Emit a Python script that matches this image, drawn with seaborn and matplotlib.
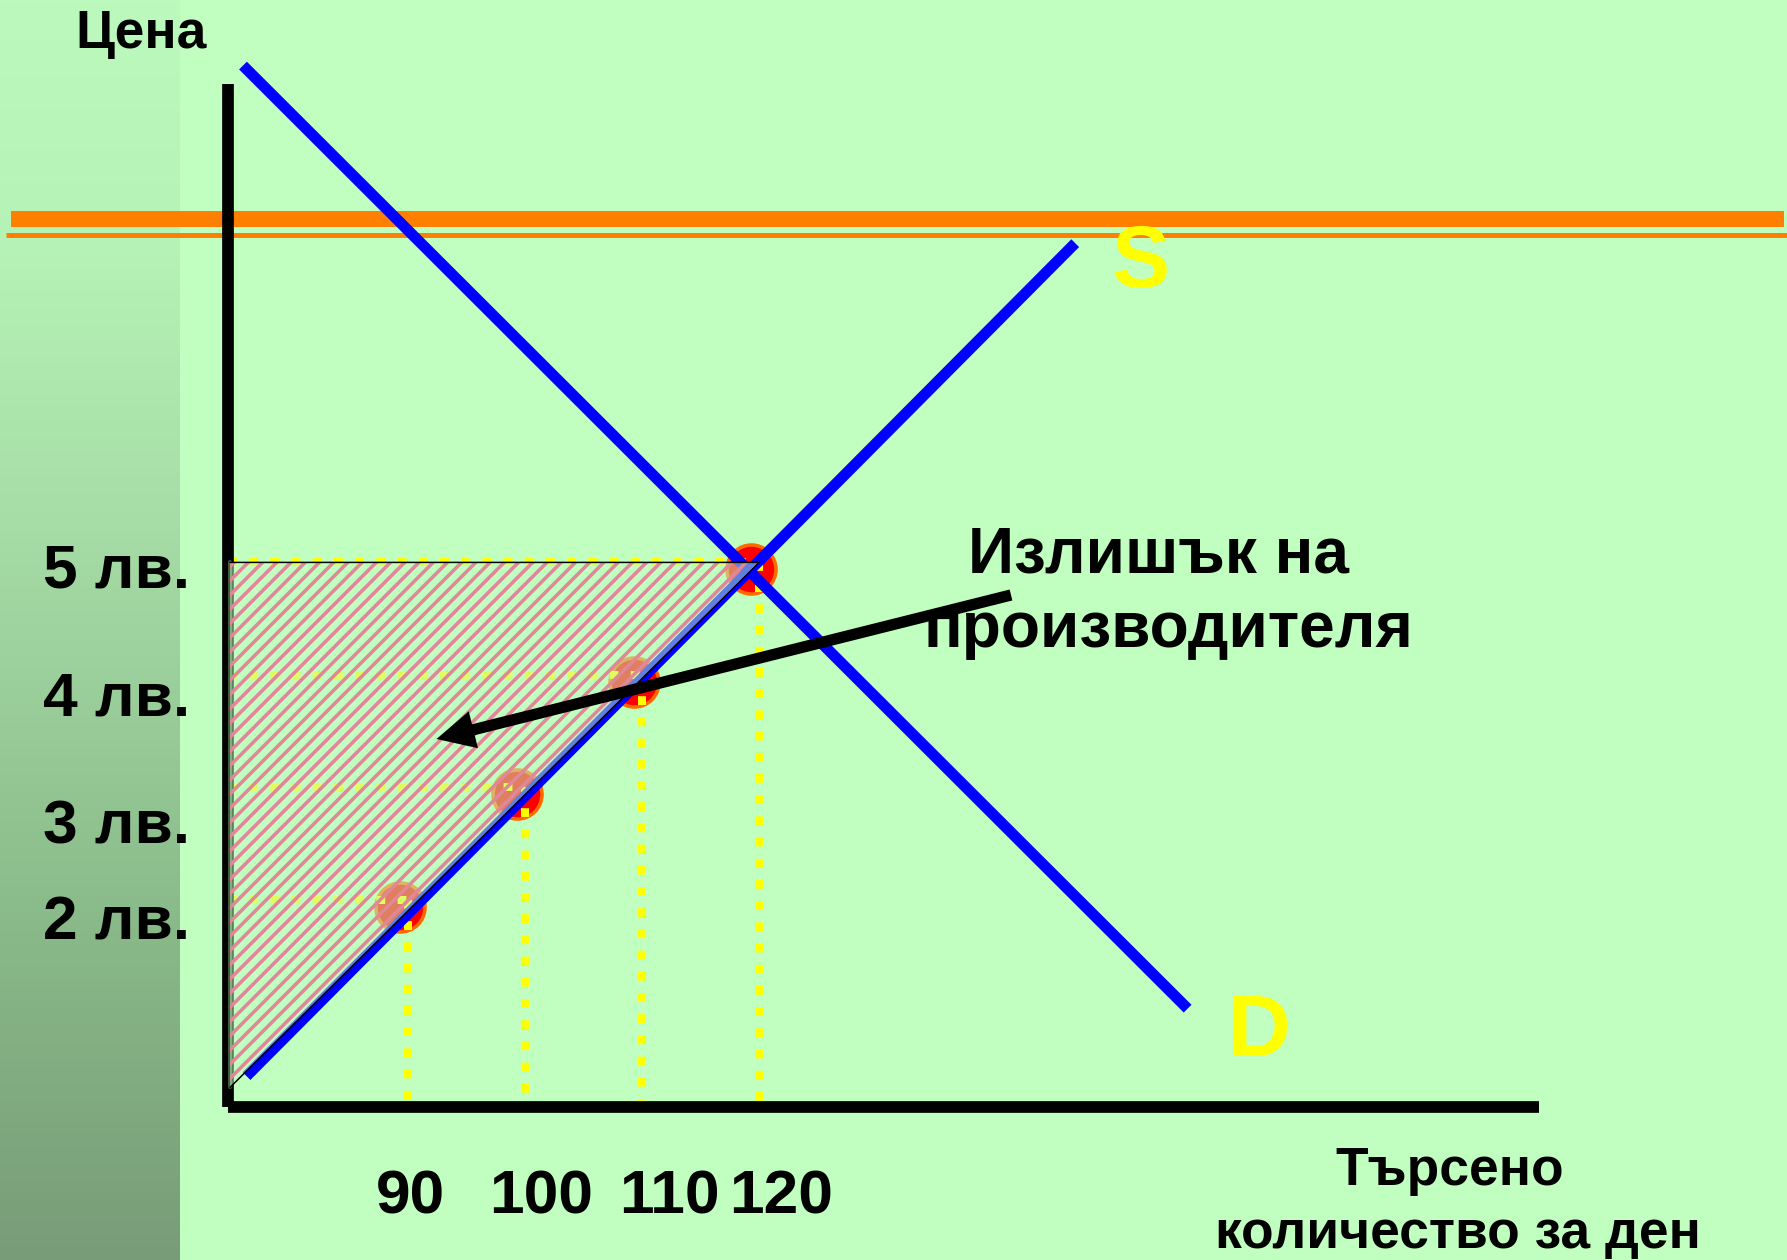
import numpy as np
import matplotlib
matplotlib.use('Agg')
import matplotlib.pyplot as plt
import seaborn as sns
from matplotlib.lines import Line2D
from matplotlib.colors import LinearSegmentedColormap
from matplotlib.transforms import ScaledTranslation

# ---------------- data ----------------
quantity = [90, 100, 110, 120]
price = [2, 3, 4, 5]
quantity_labels = ["90", "100", "110", "120"]
price_labels = ["5 лв.", "4 лв.", "3 лв.", "2 лв."]
supply_q = [76.2, 147.0]
supply_p = [0.43, 7.84]
demand_q = [75.9, 156.6]
demand_p = [9.42, 1.03]
surplus_q = [74.8, 74.8, 120]
surplus_p = [0.33, 5, 5]

# ---------------- style ----------------
W, H, DPI = 1787, 1260, 128
PX = 72 / DPI  # points per pixel
sns.set_style('white')
plt.rcParams['font.family'] = ['Liberation Sans', 'DejaVu Sans']
plt.rcParams['text.color'] = 'black'
plt.rcParams['hatch.linewidth'] = 2.0

BG = '#C0FFC0'
fig = plt.figure(figsize=(W / DPI, H / DPI), dpi=DPI, facecolor=BG)


def fx(x):
    return x / W


def fy(y):
    return 1 - y / H


# left gradient strip
strip = fig.add_axes([0, 0, 180 / W, 1], zorder=0)
cmap = LinearSegmentedColormap.from_list(
    'strip', [(0, '#BCF9BC'), (0.2, '#B5F2B5'), (0.42, '#A6DCA6'),
              (0.75, '#88B888'), (1.0, '#789C78')])
strip.imshow(np.linspace(0, 1, 256).reshape(-1, 1), aspect='auto', cmap=cmap)
strip.axis('off')

# orange decorative lines
fig.add_artist(Line2D([fx(11), fx(1784)], [fy(219), fy(219)], transform=fig.transFigure,
                      color='#FF8000', lw=16 * PX, solid_capstyle='butt', zorder=0.5))
fig.add_artist(Line2D([fx(6), fx(1787)], [fy(234.5), fy(234.5)], transform=fig.transFigure,
                      color='#FF8000', lw=5 * PX, solid_capstyle='butt', zorder=0.5))

# main axes
ax = fig.add_axes([fx(228), fy(1107), (1539 - 228) / W, (1107 - 84) / H], zorder=1)
ax.set_facecolor('none')
XL = (74.62, 186.62)
YL = (0.155, 9.256)
ax.set_xlim(*XL)
ax.set_ylim(*YL)
ax.set_xticks([])
ax.set_yticks([])
for s in ['top', 'right']:
    ax.spines[s].set_visible(False)
for s in ['left', 'bottom']:
    ax.spines[s].set_linewidth(11.7 * PX)
    ax.spines[s].set_color('black')
    ax.spines[s].set_capstyle('butt')

# markers
sns.scatterplot(x=quantity, y=price, s=760, color='#FF0000', edgecolor='#FF6A00',
                linewidth=2.0, zorder=1.5, clip_on=False, ax=ax, legend=False)
coll = ax.collections[-1]
coll.set_offset_transform(ax.transData + ScaledTranslation(-8 / DPI, -7 / DPI, fig.dpi_scale_trans))

# dotted guides
DOT = dict(color='#FFFF00', lw=8 * PX, linestyle=(0, (1.1, 1.55)), dash_capstyle='butt',
           zorder=2, clip_on=False)
for q, p in zip(quantity, price):
    ax.plot([q, q], [p, YL[0]], **DOT)
    ax.plot([XL[0], q], [p, p], **DOT)

# supply and demand
sns.lineplot(x=supply_q, y=supply_p, color='#0000FF', lw=11 * PX, solid_capstyle='butt',
             zorder=2.5, clip_on=False, ax=ax)
sns.lineplot(x=demand_q, y=demand_p, color='#0000FF', lw=11 * PX, solid_capstyle='butt',
             zorder=2.5, clip_on=False, ax=ax)

# producer surplus triangle
ax.plot(surplus_q[:2], surplus_p[:2], color='#3E5E3E', lw=4 * PX, zorder=2.9, clip_on=False)
ax.fill(surplus_q, surplus_p, facecolor=(0.753, 1.0, 0.753, 0.5), edgecolor='#E0879A',
        hatch='///', linewidth=0, zorder=3, clip_on=False)
ax.plot([surplus_q[0], surplus_q[2], surplus_q[1]], [surplus_p[0], surplus_p[2], surplus_p[1]],
        color='black', lw=1.5 * PX, zorder=3.5, clip_on=False)

# arrow
ax.annotate('', xy=(fx(436.5), fy(739)), xycoords='figure fraction',
            xytext=(fx(1011), fy(595)), textcoords='figure fraction',
            arrowprops=dict(width=11.3 * PX, headwidth=38 * PX, headlength=38 * PX,
                            facecolor='black', edgecolor='black', linewidth=0),
            zorder=4, annotation_clip=False)

# texts
fig.text(fx(141.5), fy(48.3), 'Цена', ha='center', va='baseline', fontsize=30, fontweight='bold')
for lab, yb in zip(price_labels, [588, 716, 844, 939]):
    fig.text(fx(190), fy(yb), lab, ha='right', va='baseline', fontsize=35, fontweight='bold')
for lab, xc in zip(quantity_labels, [410, 541, 669, 781]):
    fig.text(fx(xc), fy(1214), lab, ha='center', va='baseline', fontsize=35, fontweight='bold')
fig.text(fx(1140), fy(287), 'S', ha='center', va='baseline', fontsize=49, fontweight='bold',
         color='#FFFF00')
fig.text(fx(1227), fy(1056), 'D', ha='left', va='baseline', fontsize=49, fontweight='bold',
         color='#FFFF00')
fig.text(fx(1158), fy(573), 'Излишък на', ha='center', va='baseline', fontsize=36, fontweight='bold')
fig.text(fx(1168), fy(647), 'производителя', ha='center', va='baseline', fontsize=36, fontweight='bold')
fig.text(fx(1450), fy(1185), 'Търсено', ha='center', va='baseline', fontsize=30, fontweight='bold')
fig.text(fx(1458), fy(1248), 'количество за ден', ha='center', va='baseline', fontsize=30,
         fontweight='bold')

fig.savefig('out.png', dpi=DPI, facecolor=BG)
